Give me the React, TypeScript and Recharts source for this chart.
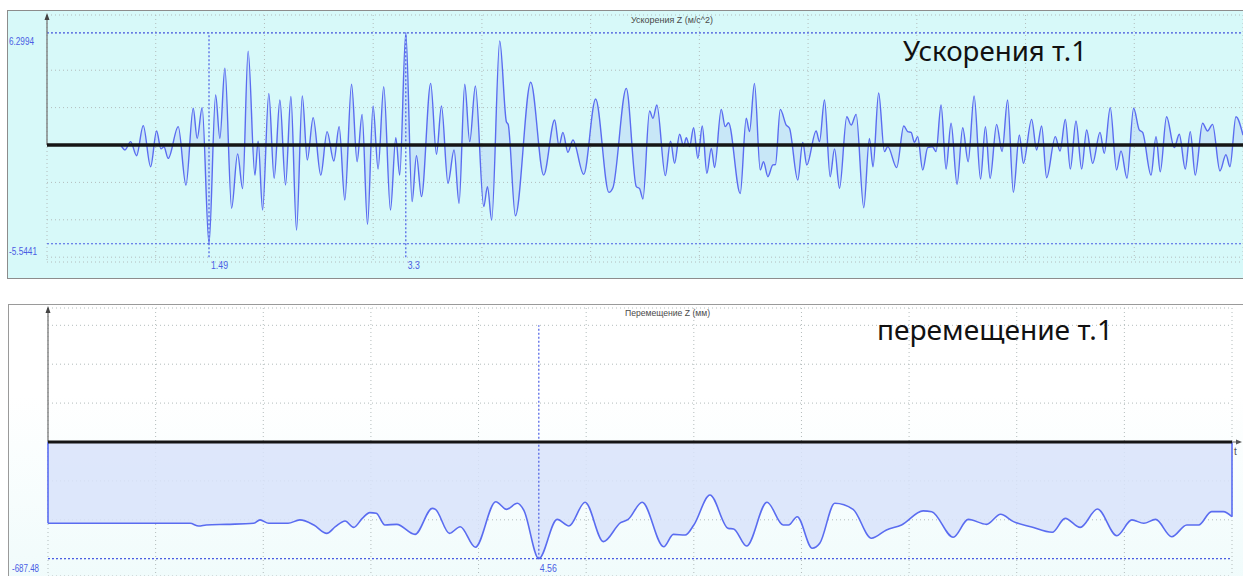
import React from "react";
import { Area, CartesianGrid, ComposedChart, ReferenceLine, XAxis, YAxis } from "recharts";

const ACC_T = [
  0, 0.67, 0.717, 0.769, 0.824, 0.885, 0.953, 1.008, 1.048, 1.075, 1.115, 1.207, 1.278, 1.345, 1.381, 1.427,
  1.49, 1.551, 1.59, 1.636, 1.698, 1.753, 1.799, 1.85, 1.912, 1.942, 1.983, 2.04, 2.089, 2.142, 2.194, 2.243,
  2.295, 2.348, 2.394, 2.448, 2.518, 2.576, 2.638, 2.687, 2.739, 2.801, 2.852, 2.898, 2.948, 2.999, 3.045, 3.097,
  3.159, 3.208, 3.244, 3.3, 3.358, 3.398, 3.444, 3.529, 3.582, 3.628, 3.688, 3.744, 3.79, 3.842, 3.888, 3.94,
  4.017, 4.051, 4.09, 4.164, 4.225, 4.242, 4.308, 4.449, 4.568, 4.669, 4.709, 4.745, 4.791, 4.837, 4.936, 5.046,
  5.168, 5.205, 5.328, 5.42, 5.45, 5.481, 5.542, 5.573, 5.609, 5.687, 5.735, 5.772, 5.818, 5.855, 5.88, 5.91,
  5.947, 5.986, 6.027, 6.069, 6.11, 6.14, 6.201, 6.238, 6.268, 6.376, 6.431, 6.461, 6.507, 6.56, 6.59, 6.63,
  6.676, 6.7, 6.744, 6.799, 6.829, 6.905, 6.951, 6.988, 7.074, 7.105, 7.151, 7.203, 7.243, 7.289, 7.356, 7.396,
  7.442, 7.512, 7.564, 7.597, 7.649, 7.702, 7.733, 7.815, 7.88, 7.916, 7.948, 7.978, 8.008, 8.054, 8.1, 8.143,
  8.177, 8.223, 8.269, 8.315, 8.37, 8.422, 8.472, 8.527, 8.586, 8.631, 8.674, 8.734, 8.784, 8.835, 8.888, 8.943,
  8.98, 9.056, 9.102, 9.148, 9.194, 9.274, 9.317, 9.366, 9.412, 9.464, 9.516, 9.562, 9.617, 9.685, 9.724, 9.779,
  9.837, 9.878, 9.933, 9.994, 10.046, 10.077, 10.154, 10.2, 10.239, 10.297, 10.368, 10.414, 10.469, 10.515, 10.561, 10.628,
  10.674, 10.72, 10.788, 10.843, 10.88, 10.935, 11.0,
];
const ACC_VAL = [
  0, 0, -0.28, 0.19, -0.6, 1.09, -1.22, 0.79, -0.22, -0.1, -0.75, 1.03, -2.25, 2.06, 0.37, 2.1,
  -5.5441, 2.81, 0.37, 4.31, -3.55, -0.5, -2.45, 5.27, -1.69, 0.22, -3.65, 2.9, -1.87, 2.53, -2.25, 2.72,
  -4.78, 2.76, -0.84, 1.54, -1.69, 0.75, -0.9, 1.03, -3.09, 3.41, -0.94, 1.72, -4.46, 2.19, -1.35, 3.28,
  -3.65, 0.41, -1.69, 6.2994, -3.18, -0.6, -2.9, 3.46, -0.52, 2.19, -2.15, -0.28, -3.28, 3.41, 0.19, 3.31,
  -3.46, -2.34, -4.21, 5.84, 1.31, 1.15, -3.97, 3.52, -1.69, 1.4, -0.04, 0.71, -0.41, 0.28, -1.65, 2.58,
  -2.66, -2.4, 3.18, -2.34, -2.45, -3.03, 1.91, 1.5, 2.25, -1.72, 0.22, -1.03, 0.6, -0.05, 0.41, -0.09,
  0.97, -0.75, 1.07, -1.59, -0.19, -1.27, 2.0, 1.03, 1.25, -2.72, 1.5, 0.75, 3.46, -1.4, -0.94, -1.78,
  -1.12, -1.1, 2.0, 1.12, 0.94, -1.97, 0.15, -1.12, 0.79, 0.19, 2.53, -1.78, -0.22, -2.43, 1.59, 1.12,
  1.72, -3.52, 0.37, -1.22, 2.92, -0.37, -0.09, -1.27, 1.07, 0.75, 0.71, 0.15, 0.47, -1.4, -0.15, -0.1,
  -0.37, 2.25, -1.35, 1.22, -2.21, 0.97, -0.94, 2.75, -1.91, 1.03, -1.87, 1.16, -0.37, 2.53, -2.66, 0.56,
  -1.03, 1.44, -0.28, 1.07, -1.84, 0.47, -0.34, 1.44, -1.35, 1.35, -1.35, 0.84, -1.03, 0.71, -0.47, 2.1,
  -1.4, -0.34, -1.87, 2.06, 0.85, 0.71, -1.69, 0.47, -1.5, 1.59, -0.15, 0.6, -1.35, 0.75, -1.69, 1.22,
  0.79, 1.16, -1.46, -0.55, -1.22, 1.59, 0.56,
];

// Перемещение Z (мм)
const DISP_T = [
  0, 1.32, 1.4, 1.47, 1.66, 1.91, 1.97, 2.05, 2.23, 2.34, 2.47, 2.59, 2.67, 2.76, 2.84, 2.92,
  2.99, 3.05, 3.13, 3.24, 3.41, 3.57, 3.6, 3.73, 3.83, 3.97, 4.16, 4.26, 4.36, 4.42, 4.56, 4.73,
  4.84, 4.99, 5.16, 5.32, 5.39, 5.52, 5.72, 5.81, 5.92, 6.0, 6.15, 6.32, 6.37, 6.49, 6.68, 6.83,
  6.88, 6.96, 7.1, 7.17, 7.31, 7.48, 7.65, 7.79, 7.93, 8.13, 8.21, 8.41, 8.55, 8.72, 8.85, 8.97,
  9.13, 9.33, 9.45, 9.59, 9.75, 9.93, 10.07, 10.18, 10.29, 10.44, 10.58, 10.69, 10.81, 10.92, 11.0,
];
const DISP_VAL = [
  -479, -479, -495, -489, -485, -479, -459, -479, -479, -459, -489, -538, -499, -465, -503, -450,
  -416, -420, -489, -485, -544, -391, -397, -538, -499, -620, -352, -397, -361, -401, -687.48, -456,
  -495, -355, -587, -475, -456, -355, -617, -544, -548, -489, -312, -509, -512, -613, -355, -489,
  -489, -440, -626, -597, -361, -397, -567, -518, -489, -406, -411, -561, -456, -485, -426, -469,
  -499, -532, -450, -503, -395, -552, -459, -479, -456, -558, -489, -489, -410, -410, -440,
];

const TIME_TICKS = [0, 1, 2, 3, 4, 5, 6, 7, 8, 9, 10, 11];
const ACC_GRID = [-6.2994, -4.1996, -2.0998, 0, 2.0998, 4.1996, 6.2994];
const DISP_GRID = [-687.48, -458.32, -229.16, 0, 229.16, 458.32, 687.48];
const ACC_DOMAIN = [-6.57, 7.3];
const DISP_DOMAIN = [-789.4, 789.4];
const ACC_MAX = 6.2994;
const ACC_MIN = -5.5441;
const ACC_MARKS = [1.49, 3.3];
const DISP_MIN = -687.48;
const DISP_MARK = 4.56;

const LINE = "#5a6cf0";
const MARK = "#4a5de4";
const GRID = "#b3bcbc";
const LABEL_FONT = "'Liberation Sans', Arial, sans-serif";

const accData = ACC_T.map((t, i) => ({ t, a: ACC_VAL[i] }));
const dispData = DISP_T.map((t, i) => ({ t, d: DISP_VAL[i] }));

// small blue value labels hung off reference lines
const valueLabel = (text: string, dx: number, dy: number, len: number, fromBottom = false) => (props: any) => {
  const vb = props.viewBox || {};
  const y = fromBottom ? vb.y + vb.height : vb.y;
  return (
    <text x={vb.x + dx} y={y + dy} fontSize={10} fill={MARK} fontFamily={LABEL_FONT}
      textLength={len} lengthAdjust="spacingAndGlyphs">{text}</text>
  );
};

const upArrow = (props: any) => {
  const { x, y } = props.viewBox || {};
  return <polygon points={`${x},${y - 2} ${x - 2.5},${y + 5} ${x + 2.5},${y + 5}`} fill="#444" />;
};

const rightArrow = (props: any) => {
  const { x, y, width } = props.viewBox || {};
  const e = x + width;
  return (
    <g>
      <line x1={e} y1={y} x2={e + 8} y2={y} stroke="#666" strokeWidth={1} />
      <polygon points={`${e + 10},${y} ${e + 4},${y - 2.5} ${e + 4},${y + 2.5}`} fill="#555" />
      <text x={e + 2} y={y + 13} fontSize={10} fill="#555" fontFamily={LABEL_FONT}>t</text>
    </g>
  );
};

function AccelChart() {
  return (
    <ComposedChart width={1243} height={290} data={accData} margin={{ top: 15, right: 0, bottom: 28, left: 47 }}>
      <CartesianGrid stroke={GRID} strokeDasharray="1 3" />
      <XAxis type="number" dataKey="t" domain={[0, 11]} ticks={TIME_TICKS} hide allowDataOverflow />
      <YAxis type="number" domain={ACC_DOMAIN} ticks={ACC_GRID} hide allowDataOverflow />
      <Area type="monotone" dataKey="a" baseValue={0} stroke={LINE} strokeWidth={1.4}
        fill="#bcd8f6" fillOpacity={0.55} isAnimationActive={false} dot={false} activeDot={false} />
      <ReferenceLine y={ACC_MAX} stroke={MARK} strokeDasharray="2 2" strokeWidth={1.2}
        label={valueLabel("6.2994", -38, 12, 25)} />
      <ReferenceLine y={ACC_MIN} stroke={MARK} strokeDasharray="2 2" strokeWidth={1.2}
        label={valueLabel("-5.5441", -38, 11, 28)} />
      {ACC_MARKS.map((m) => (
        <ReferenceLine key={m} segment={[{ x: m, y: -ACC_MAX }, { x: m, y: ACC_MAX }]} stroke={MARK}
          strokeDasharray="2 2" strokeWidth={1.2}
          label={valueLabel(String(m), 2, 12, m === 3.3 ? 12 : 17, true)} />
      ))}
      <ReferenceLine segment={[{ x: 0, y: 0 }, { x: 0, y: ACC_DOMAIN[1] }]} stroke="#777" strokeWidth={1.3}
        label={upArrow} />
      <ReferenceLine y={0} stroke="#151515" strokeWidth={3.5} />
    </ComposedChart>
  );
}

function DispChart() {
  const last = DISP_T.length - 1;
  return (
    <ComposedChart width={1243} height={286} data={dispData} margin={{ top: 18, right: 11, bottom: 0, left: 48 }}>
      <CartesianGrid stroke={GRID} strokeDasharray="1 3" />
      <XAxis type="number" dataKey="t" domain={[0, 11]} ticks={TIME_TICKS} hide allowDataOverflow />
      <YAxis type="number" domain={DISP_DOMAIN} ticks={DISP_GRID} hide allowDataOverflow />
      <Area type="monotone" dataKey="d" baseValue={0} stroke={LINE} strokeWidth={1.6}
        fill="#d8e3fa" fillOpacity={0.85} isAnimationActive={false} dot={false} activeDot={false} />
      <ReferenceLine segment={[{ x: DISP_T[0], y: 0 }, { x: DISP_T[0], y: DISP_VAL[0] }]} stroke={LINE} strokeWidth={1.6} />
      <ReferenceLine segment={[{ x: DISP_T[last], y: 0 }, { x: DISP_T[last], y: DISP_VAL[last] }]} stroke={LINE} strokeWidth={1.6} />
      <ReferenceLine y={DISP_MIN} stroke={MARK} strokeDasharray="2 2" strokeWidth={1.2}
        label={valueLabel("-687.48", -36, 13, 27)} />
      <ReferenceLine segment={[{ x: DISP_MARK, y: DISP_MIN }, { x: DISP_MARK, y: -DISP_MIN }]} stroke={MARK}
        strokeDasharray="2 2" strokeWidth={1.2} label={valueLabel("4.56", 1, 13, 17, true)} />
      <ReferenceLine segment={[{ x: 0, y: 0 }, { x: 0, y: DISP_DOMAIN[1] }]} stroke="#777" strokeWidth={1.3}
        label={upArrow} />
      <ReferenceLine y={0} stroke="#151515" strokeWidth={3} label={rightArrow} />
    </ComposedChart>
  );
}

export default function App() {
  return (
    <div style={{ position: "absolute", left: 0, top: 0, width: 1243, height: 576, overflow: "hidden", background: "#fff" }}>
      <div style={{ position: "absolute", left: 7, top: 10, width: 1250, height: 267, border: "1.5px solid #8c8c8c", background: "#d7f9f9" }} />
      <div style={{ position: "absolute", left: 8, top: 304, width: 1250, height: 300, border: "1.5px solid #9a9a9a",
        background: "linear-gradient(to bottom, #ffffff 0%, #ffffff 30%, #eefbfb 100%)" }} />
      <div style={{ position: "absolute", left: 0, top: 0 }}>
        <AccelChart />
      </div>
      <div style={{ position: "absolute", left: 0, top: 290 }}>
        <DispChart />
      </div>
      <svg width={1243} height={576} style={{ position: "absolute", left: 0, top: 0, pointerEvents: "none" }}>
        <text x={631} y={23} fontSize={9} fill="#4a4a4a" fontFamily={LABEL_FONT} textLength={82} lengthAdjust="spacingAndGlyphs">
          Ускорения Z (м/с^2)
        </text>
        <text x={625} y={316} fontSize={9} fill="#4a4a4a" fontFamily={LABEL_FONT} textLength={85} lengthAdjust="spacingAndGlyphs">
          Перемещение Z (мм)
        </text>
        <text x={903} y={61} fontSize={28} fill="#111" fontFamily="'Noto Sans', sans-serif" textLength={184} lengthAdjust="spacingAndGlyphs">
          Ускорения т.1
        </text>
        <text x={877} y={340} fontSize={28} fill="#111" fontFamily="'Noto Sans', sans-serif" textLength={236} lengthAdjust="spacingAndGlyphs">
          перемещение т.1
        </text>
      </svg>
    </div>
  );
}
